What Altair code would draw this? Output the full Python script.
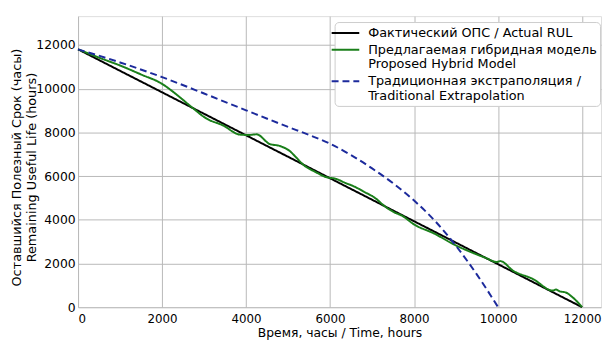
import altair as alt
import pandas as pd

# ---- data ----
series_names = [
    "Фактический ОПС / Actual RUL",
    "Предлагаемая гибридная модель|Proposed Hybrid Model",
    "Традиционная экстраполяция /|Traditional Extrapolation",
]
series_colors = ["#000000", "#1a7f1a", "#1c2a9c"]
series_dashes = [[1, 0], [1, 0], [7, 4]]

actual_t = [0, 12000]
actual_rul = [11800, 0]

hybrid_t = [0, 500, 1000, 1500, 2000, 2300, 2700, 3050, 3450, 3850, 4050, 4250,
            4560, 4800, 5030, 5190, 5350, 5660, 5910, 6130, 6360, 6600, 6800,
            7070, 7300, 7540, 7700, 8010, 8480, 8950, 9420, 9700, 9970, 10050,
            10360, 10830, 11300, 11380, 11460, 11610, 11770, 12000]
hybrid_rul = [11800, 11420, 11060, 10650, 10220, 9800, 9165, 8640, 8320, 7900,
              7880, 7910, 7470, 7380, 7160, 6860, 6540, 6180, 5950, 5880, 5690,
              5500, 5290, 5000, 4620, 4330, 4200, 3775, 3370, 2870, 2470, 2260,
              2070, 2110, 1665, 1290, 760, 810, 730, 675, 460, 0]

trad_t = [0, 1000, 2000, 3000, 4000, 5000, 5500, 6000, 6500, 7000, 7500, 8000,
          8500, 9000, 9500, 10000]
trad_rul = [11800, 11200, 10530, 9780, 9010, 8250, 7880, 7480, 6960, 6350,
            5670, 4880, 3940, 2800, 1480, 0]

x_ticks = [0, 2000, 4000, 6000, 8000, 10000, 12000]
y_ticks = [0, 2000, 4000, 6000, 8000, 10000, 12000]

rows = []
for t, v in zip(actual_t, actual_rul):
    rows.append({"series": series_names[0], "t": t, "v": v, "k": 0})
for t, v in zip(hybrid_t, hybrid_rul):
    rows.append({"series": series_names[1], "t": t, "v": v, "k": 1})
for t, v in zip(trad_t, trad_rul):
    rows.append({"series": series_names[2], "t": t, "v": v, "k": 2})
df = pd.DataFrame(rows)

FONT = "DejaVu Sans"

legend = alt.Legend(
    title=None,
    orient="none",
    legendX=260,
    legendY=6,
    padding=3,
    fillColor="white",
    strokeColor="#cccccc",
    cornerRadius=4,
    labelFont=FONT,
    labelFontSize=13,
    labelColor="#000000",
    labelLimit=400,
    labelExpr="split(datum.label, '|')",
    labelOffset=15,
    symbolType="M-2,0L2,0",
    symbolSize=196,
    symbolStrokeWidth=2,
    rowPadding=2,
)

chart = (
    alt.Chart(df)
    .mark_line(strokeWidth=2, interpolate="monotone")
    .encode(
        x=alt.X(
            "t:Q",
            scale=alt.Scale(domain=[0, 12450], nice=False, zero=False),
            axis=alt.Axis(
                values=x_ticks,
                format="d",
                title="Время, часы / Time, hours",
                titleFont=FONT,
                titleFontSize=12.5,
                titleFontWeight="normal",
                titleColor="#000000",
                titlePadding=2,
                labelFont=FONT,
                labelFontSize=12,
                labelColor="#000000",
                labelPadding=7,
                ticks=False,
                domain=False,
                grid=True,
                gridColor="#b8b8b8",
                gridWidth=1,
            ),
        ),
        y=alt.Y(
            "v:Q",
            scale=alt.Scale(domain=[0, 13320], nice=False),
            axis=alt.Axis(
                values=y_ticks,
                format="d",
                title=["Оставшийся Полезный Срок (часы)", "Remaining Useful Life (hours)"],
                titleFont=FONT,
                titleFontSize=13,
                titleFontWeight="normal",
                titleColor="#000000",
                titleX=-55,
                titleY=153,
                titleBaseline="bottom",
                labelFont=FONT,
                labelFontSize=12.5,
                labelColor="#000000",
                labelPadding=3,
                ticks=False,
                domain=False,
                grid=True,
                gridColor="#b8b8b8",
                gridWidth=1,
            ),
        ),
        color=alt.Color(
            "series:N",
            scale=alt.Scale(domain=series_names, range=series_colors),
            sort=series_names,
            legend=legend,
        ),
        strokeDash=alt.StrokeDash(
            "series:N",
            scale=alt.Scale(domain=series_names, range=series_dashes),
            sort=series_names,
            legend=legend,
        ),
        order=alt.Order("k:Q"),
    )
    .properties(
        width=530,
        height=295,
        autosize=alt.AutoSizeParams(type="none"),
        padding={"left": 71, "top": 6, "right": 2, "bottom": 31},
    )
    .configure_view(stroke="#222222", strokeWidth=1.3)
    .configure(background="white")
)

chart.save("out.html", embed_options={"renderer": "svg", "actions": False})
